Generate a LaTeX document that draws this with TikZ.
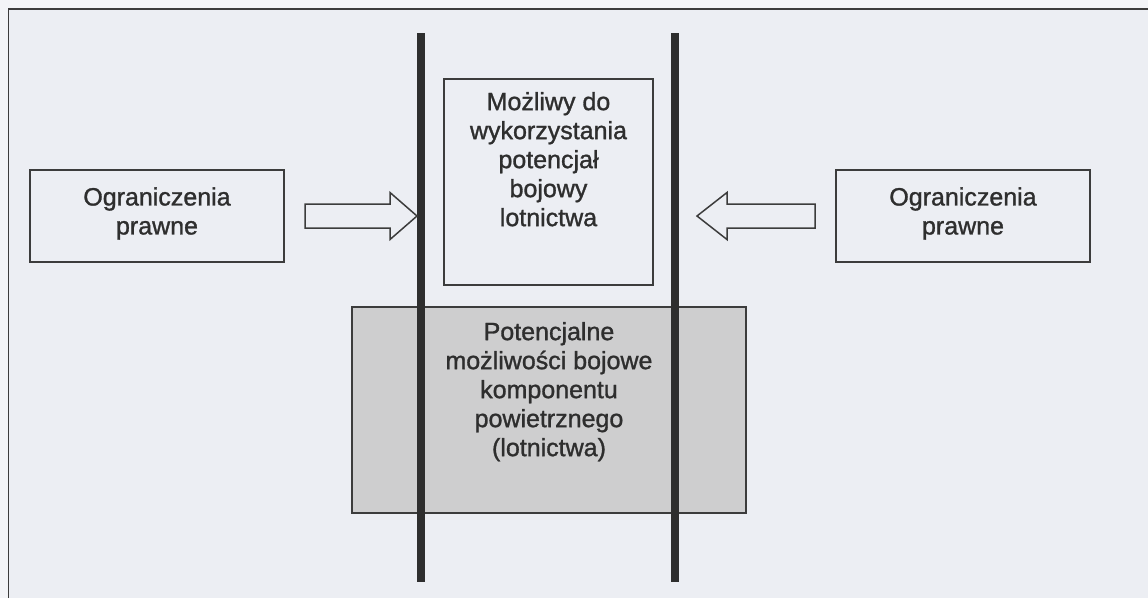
\documentclass[tikz,border=0pt]{standalone}
\usepackage{fontspec}
\setmainfont{Liberation Sans}
\newfontfamily\labelfont{Liberation Sans}[FakeBold=1.2]
\usetikzlibrary{calc}

\definecolor{paper}{HTML}{ECEEF3}
\definecolor{margin}{HTML}{F3F4F7}
\definecolor{ink}{HTML}{2E2E2E}
\definecolor{rule}{HTML}{3C3C3C}
\definecolor{shade}{HTML}{CECECF}

\tikzset{
  every node/.style={inner sep=0pt, outer sep=0pt},
  box/.style={draw=rule, line width=1.5pt, rectangle},
  greybox/.style={box, fill=shade},
  wall/.style={rectangle, fill=ink, minimum width=8pt},
  label text/.style={text=ink, align=center,
    font=\labelfont\fontsize{25}{29}\selectfont},
  blockarrow/.style={draw=rule, line width=1.5pt, fill=paper, line join=miter},
}

\begin{document}
\begin{tikzpicture}[x=1pt, y=-1pt]
  % sheet and outer frame
  \fill[margin] (0,0) rectangle (1148,598);
  \fill[paper] (8.5,9) rectangle (1148,598);
  \useasboundingbox (0,0) rectangle (1148,598);
  \draw[rule, line width=1.5pt] (8.5,598) -- (8.5,9) -- (1148,9);

  % boxes
  \node[box, minimum width=254pt, minimum height=92pt] (lbox) at (157,216) {};
  \node[box, minimum width=254pt, minimum height=92pt] (rbox) at (963,216) {};
  \node[box, minimum width=209pt, minimum height=206pt] (mbox) at (548.5,182) {};
  \node[greybox, minimum width=394pt, minimum height=206pt] (gbox) at (549,410) {};

  % the two thick vertical bars
  \node[wall, minimum height=549pt] (lwall) at (421,307.5) {};
  \node[wall, minimum height=549pt] (rwall) at (675,307.5) {};

  % texts
  \node[label text] (ltxt) at ($(lbox.center)+(0,-2.5)$) {Ograniczenia\\prawne};
  \node[label text] (rtxt) at ($(rbox.center)+(0,-2.5)$) {Ograniczenia\\prawne};
  \node[label text, anchor=north] (mtxt) at ($(mbox.north)+(0,13)$)
    {Możliwy do\\wykorzystania\\potencjał\\bojowy\\lotnictwa};
  \node[label text, anchor=north] (gtxt) at ($(gbox.north)+(0,15)$)
    {Potencjalne\\możliwości bojowe\\komponentu\\powietrznego\\(lotnictwa)};

  % block arrows pushing against the bars
  \coordinate (la0) at ($(lbox.east)+(21,0)$);
  \coordinate (la1) at (lwall.west |- la0);
  \draw[blockarrow] let \p1=(la0), \p2=(la1) in
    (\x1,\y1+12pt) -- (\x2-27pt,\y1+12pt) -- (\x2-27pt,\y1+23.5pt) --
    (\x2,\y1) -- (\x2-27pt,\y1-23.5pt) -- (\x2-27pt,\y1-12pt) --
    (\x1,\y1-12pt) -- cycle;

  \coordinate (ra0) at ($(rbox.west)+(-21,0)$);
  \coordinate (ra1) at ($(rwall.east |- ra0)+(18,0)$);
  \draw[blockarrow] let \p1=(ra0), \p2=(ra1) in
    (\x1,\y1+12pt) -- (\x2+30pt,\y1+12pt) -- (\x2+30pt,\y1+23.5pt) --
    (\x2,\y1) -- (\x2+30pt,\y1-23.5pt) -- (\x2+30pt,\y1-12pt) --
    (\x1,\y1-12pt) -- cycle;
\end{tikzpicture}
\end{document}
